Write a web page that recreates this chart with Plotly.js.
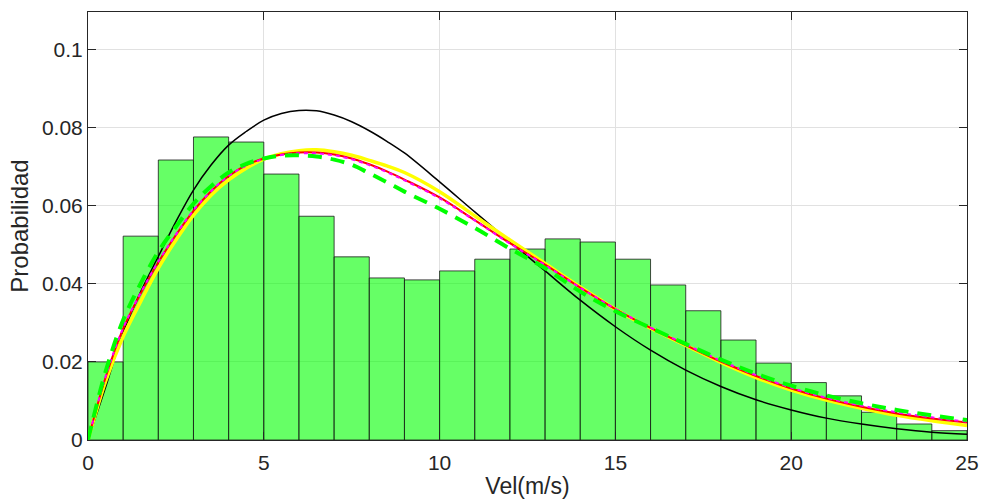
<!DOCTYPE html>
<html>
<head>
<meta charset="utf-8">
<script src="https://cdn.plot.ly/plotly-3.0.1.min.js"></script>
<style>html,body{margin:0;padding:0;background:#fff;}#chart{width:983px;height:504px;}</style>
</head>
<body>
<div id="chart"></div>
<script>
// Histogram (bin width 1 m/s)
const binCenters = [0.5,1.5,2.5,3.5,4.5,5.5,6.5,7.5,8.5,9.5,10.5,11.5,12.5,13.5,14.5,15.5,16.5,17.5,18.5,19.5,20.5,21.5,22.5,23.5,24.5];
const binProb = [0.0200,0.0522,0.0717,0.0776,0.0763,0.0681,0.0573,0.0469,0.0415,0.0410,0.0433,0.0463,0.0489,0.0515,0.0507,0.0463,0.0397,0.0331,0.0256,0.0197,0.0147,0.0113,0.0071,0.0041,0.0024];

// Fitted curves, read at these speeds
const xFit = [0,0.5,1,1.5,2,2.5,3,3.5,4,4.5,5,5.5,6,6.5,7,7.5,8,8.5,9,10,11,12,13,14,15,16,17,18,19,20,21,22,23,24,25];
const blackFit = [0,0.0135,0.0275,0.0380,0.0470,0.0559,0.0640,0.0704,0.0755,0.0790,0.0819,0.0836,0.0844,0.0843,0.0832,0.0815,0.0792,0.0765,0.0735,0.0661,0.0584,0.0508,0.0433,0.0358,0.0290,0.0230,0.0179,0.0137,0.0103,0.0077,0.0056,0.0041,0.0029,0.0020,0.0015];
const yellowFit = [0,0.0150,0.0265,0.0355,0.0440,0.0512,0.0576,0.0627,0.0666,0.0696,0.0719,0.0733,0.0741,0.0743,0.0738,0.0729,0.0716,0.0702,0.0685,0.0636,0.0574,0.0512,0.0452,0.0392,0.0335,0.0286,0.0242,0.0199,0.0160,0.0128,0.0102,0.0081,0.0063,0.0049,0.0037];
const redFit = [0,0.0160,0.0285,0.0375,0.0455,0.0525,0.0587,0.0637,0.0676,0.0704,0.0721,0.0731,0.0736,0.0736,0.0731,0.0721,0.0706,0.0688,0.0667,0.0621,0.0563,0.0504,0.0449,0.0390,0.0335,0.0287,0.0243,0.0201,0.0164,0.0132,0.0106,0.0085,0.0068,0.0055,0.0045];
const magentaFit = [0,0.0162,0.0287,0.0377,0.0457,0.0526,0.0588,0.0637,0.0676,0.0703,0.0720,0.0730,0.0734,0.0734,0.0729,0.0719,0.0704,0.0686,0.0665,0.0619,0.0562,0.0503,0.0448,0.0390,0.0336,0.0288,0.0245,0.0203,0.0166,0.0134,0.0108,0.0088,0.0071,0.0058,0.0047];
const greenFit = [0,0.0175,0.0307,0.0401,0.0482,0.0546,0.0605,0.0650,0.0685,0.0707,0.0721,0.0728,0.0729,0.0726,0.0718,0.0705,0.0683,0.0660,0.0636,0.0592,0.0543,0.0490,0.0440,0.0380,0.0330,0.0287,0.0246,0.0206,0.0170,0.0139,0.0114,0.0094,0.0077,0.0063,0.0051];

const xTicks = [0,5,10,15,20,25];
const yTicks = [0,0.02,0.04,0.06,0.08,0.1];
const yTickText = ['0','0.02','0.04','0.06','0.08','0.1'];

const fontFam = '"Liberation Sans", Arial, Helvetica, sans-serif';
const txt = '#262626';

const traces = [
  {type:'bar', x:binCenters, y:binProb, width:1,
   marker:{color:'rgba(0,255,0,0.6)', line:{color:'#1a1a1a', width:0.8}},
   hoverinfo:'skip'},
  {type:'scatter', mode:'lines', x:xFit, y:blackFit, line:{color:'#000000', width:1.5, shape:'spline'}},
  {type:'scatter', mode:'lines', x:xFit, y:yellowFit, line:{color:'#FFFF00', width:3.5, shape:'spline'}},
  {type:'scatter', mode:'lines', x:xFit, y:redFit, line:{color:'#FF0000', width:2, shape:'spline'}},
  {type:'scatter', mode:'lines', x:xFit, y:magentaFit, line:{color:'#FF00FF', width:2, dash:'4px,4px', shape:'spline'}},
  {type:'scatter', mode:'lines', x:xFit, y:greenFit, line:{color:'#00FF00', width:4, dash:'14px,9px', shape:'spline'}}
];

const axisCommon = {
  showline:true, linecolor:txt, linewidth:1, mirror:'ticks',
  ticks:'inside', ticklen:8, tickwidth:1, tickcolor:txt,
  showgrid:true, gridcolor:'#e1e1e1', gridwidth:1, zeroline:false,
  tickfont:{family:fontFam, size:21, color:txt}
};

const layout = {
  width:983, height:504,
  margin:{l:88, r:16, t:12, b:64, pad:0},
  paper_bgcolor:'#ffffff', plot_bgcolor:'#ffffff',
  showlegend:false, bargap:0,
  font:{family:fontFam, color:txt},
  xaxis:Object.assign({}, axisCommon, {
    range:[0,25], tickvals:xTicks, ticktext:xTicks.map(String), ticklabelstandoff:4,
    title:{text:'Vel(m/s)', font:{family:fontFam, size:23, color:txt}, standoff:4}
  }),
  yaxis:Object.assign({}, axisCommon, {
    range:[0,0.1096], tickvals:yTicks, ticktext:yTickText,
    title:{text:'Probabilidad', font:{family:fontFam, size:24, color:txt}, standoff:6}
  })
};

Plotly.newPlot('chart', traces, layout, {displayModeBar:false, staticPlot:true});
</script>
</body>
</html>
